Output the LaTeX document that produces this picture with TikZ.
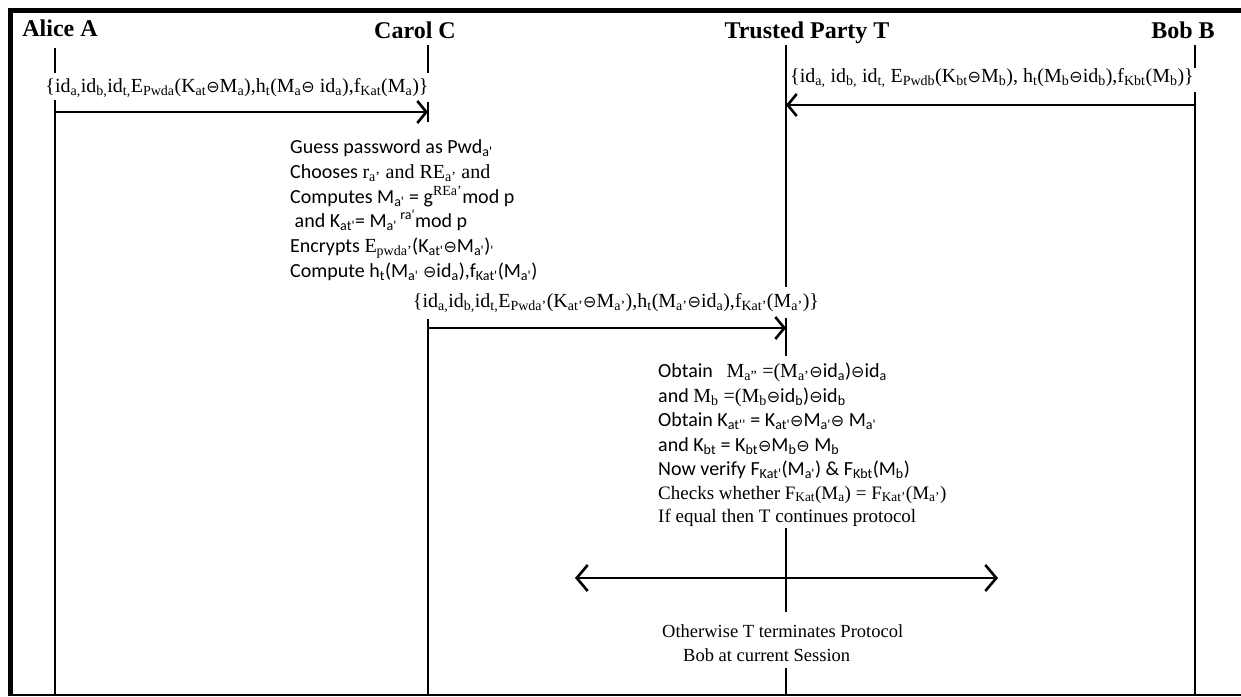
\documentclass[tikz,border=0pt]{standalone}
\usepackage{fontspec}
\usepackage{graphicx}
\setmainfont{Liberation Serif}
\newfontfamily\calfont{Carlito}
\newfontfamily\opfont{DejaVu Sans}
\usetikzlibrary{arrows.meta}
% circled operator, subscript / superscript helpers
\newcommand\xo{{\opfont\scalebox{0.8}{⊖}}}
\newcommand\sbs[1]{\textsubscript{#1}}
\newcommand\sps[1]{\textsuperscript{#1}}
\newcommand\rmpart[1]{{\rmfamily #1}}
\begin{document}
\begin{tikzpicture}[x=1pt,y=-1pt,
  life/.style={line width=2.6pt},
  msg/.style={line width=2.6pt,-{Straight Barb[length=9pt,width=22pt]}},
  both/.style={line width=2.6pt,{Straight Barb[length=11pt,width=26pt]}-{Straight Barb[length=11pt,width=26pt]}},
  head/.style={font=\fontsize{24}{28}\selectfont\bfseries, inner sep=0pt, anchor=base},
  lbl/.style={font=\fontsize{20}{24}\selectfont, inner sep=0pt},
  sans/.style={font=\calfont\fontsize{20}{24}\selectfont, inner sep=0pt, anchor=base west},
  serif/.style={font=\fontsize{19}{24}\selectfont, inner sep=0pt, anchor=base west}]
\useasboundingbox (0,0) rectangle (1241,696);

% frame
\draw[line width=5pt] (10.5,696) -- (10.5,10.5) -- (1241,10.5);
\draw[line width=2pt] (10.5,694.5) -- (1241,694.5);

% participants
\node[head] (alice) at (60,36) {Alice A};
\node[head] (carol) at (415,38) {Carol C};
\node[head] (tp) at (807,38) {Trusted Party T};
\node[head] (bob) at (1183,38) {Bob B};

% lifeline points
\coordinate (A1) at (55,48);   \coordinate (A2) at (55,73);
\coordinate (A3) at (55,100);  \coordinate (A4) at (55,696);
\coordinate (C1) at (428,45);  \coordinate (C2) at (428,73);
\coordinate (C3) at (428,102); \coordinate (C4) at (428,122);
\coordinate (C5) at (428,319); \coordinate (C6) at (428,696);
\coordinate (T1) at (786,45);  \coordinate (T2) at (786,287);
\coordinate (T3) at (786,318); \coordinate (T4) at (786,356);
\coordinate (T5) at (786,528); \coordinate (T6) at (786,612);
\coordinate (T7) at (786,668); \coordinate (T8) at (786,696);
\coordinate (B1) at (1195,45); \coordinate (B2) at (1195,68);
\coordinate (B3) at (1195,92); \coordinate (B4) at (1195,696);

\draw[life] (A1) -- (A2) (A3) -- (A4);
\draw[life] (C1) -- (C2) (C3) -- (C4) (C5) -- (C6);
\draw[life] (T1) -- (T2) (T3) -- (T4) (T5) -- (T6) (T7) -- (T8);
\draw[life] (B1) -- (B2) (B3) -- (B4);

% messages
\coordinate (m1s) at (55,112);   \coordinate (m1e) at (428,112);
\coordinate (m2s) at (1195,105); \coordinate (m2e) at (786,105);
\coordinate (m3s) at (428,328);  \coordinate (m3e) at (786,328);
\coordinate (dl) at (575,578);   \coordinate (dr) at (998,578);
\draw[msg] (m1s) -- (m1e);
\draw[msg] (m2s) -- (m2e);
\draw[msg] (m3s) -- (m3e);
\draw[both] (dl) -- (dr);

\node[lbl] (l1) at (237,88) {\{id\sbs{a,}id\sbs{b,}id\sbs{t,}E\sbs{Pwda}(K\sbs{at}\xo M\sbs{a}),h\sbs{t}(M\sbs{a}\xo\ id\sbs{a}),f\sbs{Kat}(M\sbs{a})\}};
\node[lbl] (l2) at (992,78) {\{id\sbs{a,} id\sbs{b,} id\sbs{t,} E\sbs{Pwdb}(K\sbs{bt}\xo M\sbs{b}), h\sbs{t}(M\sbs{b}\xo id\sbs{b}),f\sbs{Kbt}(M\sbs{b})\}};
\node[lbl] (l3) at (616,303) {\{id\sbs{a,}id\sbs{b,}id\sbs{t,}E\sbs{Pwda'}(K\sbs{at'}\xo M\sbs{a'}),h\sbs{t}(M\sbs{a'}\xo id\sbs{a}),f\sbs{Kat'}(M\sbs{a'})\}};

% Carol's computation
\node[sans] (c1) at (290,153) {Guess password as Pwd\sbs{a'}};
\node[sans] (c2) at (290,178) {Chooses \rmpart{r\sbs{a'} and RE\sbs{a'} and}};
\node[sans] (c3) at (290,203) {Computes M\sbs{a'} = g\sps{\rmfamily REa'}mod p};
\node[sans] (c4) at (290,227) {\ and K\sbs{at'}= M\sbs{a'}\,\sps{ra'}mod p};
\node[sans] (c5) at (290,252) {Encrypts \rmpart{E\sbs{pwda'}}(K\sbs{at'}\xo M\sbs{a'})\sbs{'}};
\node[sans] (c6) at (290,277) {Compute h\sbs{t}(M\sbs{a'} \xo id\sbs{a}),f\sbs{Kat'}(M\sbs{a'})};

% trusted party checks
\node[sans] (t1) at (658,377) {Obtain\ \ \ \rmpart{M\sbs{a''} =(M\sbs{a'}}\xo id\sbs{a})\xo id\sbs{a}};
\node[sans] (t2) at (658,402) {and \rmpart{M\sbs{b} =(M\sbs{b}}\xo id\sbs{b})\xo id\sbs{b}};
\node[sans] (t3) at (658,426) {Obtain K\sbs{at''} = K\sbs{at'}\xo M\sbs{a'}\xo\ M\sbs{a'}};
\node[sans] (t4) at (658,451) {and K\sbs{bt} = K\sbs{bt}\xo M\sbs{b}\xo\ M\sbs{b}};
\node[sans] (t5) at (658,475) {Now verify F\sbs{Kat'}(M\sbs{a'}) \& F\sbs{Kbt}(M\sbs{b})};
\node[serif] (t6) at (658,499) {Checks whether F\sbs{Kat}(M\sbs{a}) = F\sbs{Kat'}(M\sbs{a'})};
\node[serif] (t7) at (658,522) {If equal then T continues protocol};

\node[serif, font=\fontsize{18.5}{22}\selectfont] (o1) at (662,637) {Otherwise T terminates Protocol};
\node[serif, font=\fontsize{18.5}{22}\selectfont] (o2) at (683,661) {Bob at current Session};
\end{tikzpicture}
\end{document}
